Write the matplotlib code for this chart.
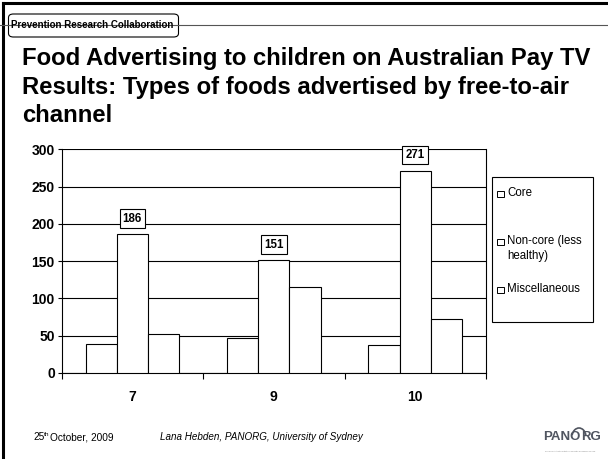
import numpy as np
import matplotlib
matplotlib.use("Agg")
import matplotlib.pyplot as plt
from matplotlib.patches import FancyBboxPatch, Arc, Rectangle
from matplotlib.lines import Line2D

plt.rcParams['font.family'] = ['Liberation Sans', 'DejaVu Sans']

# data
channels = ['7', '9', '10']
core = [39, 47, 37]
non_core = [186, 151, 271]
misc = [52, 115, 72]
series_names = ['Core', 'Non-core (less\nhealthy)', 'Miscellaneous']

W, H = 608, 459
fig = plt.figure(figsize=(W / 100, H / 100), dpi=100)

def fx(px):
    return px / W

def fy(py):
    return 1 - py / H

# slide frame
fig.add_artist(Line2D([fx(3), 1], [fy(3), fy(3)], color='black', lw=2.2))
fig.add_artist(Line2D([fx(3), fx(3)], [fy(3), 0], color='black', lw=2.2))
fig.add_artist(Line2D([0, 1], [fy(25), fy(25)], color='#555555', lw=0.8))
box = FancyBboxPatch((fx(8.5), fy(37)), fx(170), fy(14) - fy(37),
                     boxstyle='round,pad=0,rounding_size=0.008',
                     transform=fig.transFigure, fc='white', ec='black', lw=0.8)
fig.add_artist(box)
fig.text(fx(10.5), fy(25.5), 'Prevention Research Collaboration', fontsize=7.0,
         fontweight='bold', va='center', ha='left')

# title
title_lines = ['Food Advertising to children on Australian Pay TV',
               'Results: Types of foods advertised by free-to-air',
               'channel']
for line, y in zip(title_lines, [58, 87.5, 115.5]):
    fig.text(fx(22), fy(y), line, fontsize=17.2, fontweight='bold', va='center')

# chart
ax = fig.add_axes([fx(61.7), fy(373), fx(486) - fx(61.7), fy(149.3) - fy(373)])
x = np.arange(len(channels))
w = 0.221
bars = []
for off, vals, name in zip([-w, 0, w], [core, non_core, misc], series_names):
    bars.append(ax.bar(x + off, vals, w, color='white', edgecolor='black', lw=0.8,
                       zorder=3, label=name))
ax.bar_label(bars[1], padding=7, fontsize=8.3, fontweight='bold',
             bbox=dict(boxstyle='square,pad=0.28', fc='white', ec='black', lw=0.8))

ax.set_xlim(-0.5, len(channels) - 0.5)
ax.set_ylim(0, 300)
ax.set_yticks(np.arange(0, 301, 50))
ax.yaxis.grid(True, color='black', lw=0.8, zorder=0)
ax.set_axisbelow(True)
ax.set_xticks(x)
ax.set_xticklabels(channels, fontsize=10, fontweight='bold')
ax.set_xticks(np.arange(-0.5, len(channels), 1), minor=True)
ax.tick_params(axis='x', which='major', length=0, pad=12)
ax.tick_params(axis='x', which='minor', length=4, direction='out', width=0.8)
ax.tick_params(axis='y', length=3, width=0.8, pad=2, labelsize=10)
for lab in ax.get_yticklabels():
    lab.set_fontweight('bold')
for s in ax.spines.values():
    s.set_linewidth(0.8)
ax.spines['top'].set_visible(False)

# legend box laid out like the PowerPoint one
fig.add_artist(Rectangle((fx(492), fy(322)), fx(593) - fx(492), fy(177) - fy(322),
                         transform=fig.transFigure, fc='white', ec='black', lw=0.8))
for i, (b, name) in enumerate(zip(bars, series_names)):
    yc = 194 + i * 48
    fig.add_artist(Rectangle((fx(497), fy(yc + 3.3)), fx(6.6), fy(yc - 3.3) - fy(yc + 3.3),
                             transform=fig.transFigure, fc=b.patches[0].get_facecolor(),
                             ec='black', lw=0.7))
    fig.text(fx(507), fy(yc - 6.5), name, fontsize=8.3, va='top', ha='left',
             linespacing=1.25)

# footer
fig.text(fx(33), fy(437), '25', fontsize=7.3, va='center')
fig.text(fx(43.5), fy(435), 'th', fontsize=4.6, va='center')
fig.text(fx(50.5), fy(437), 'October, 2009', fontsize=7.3, va='center')
fig.text(fx(160), fy(437), 'Lana Hebden, PANORG, University of Sydney', fontsize=7.1,
         style='italic', va='center')
fig.text(fx(543), fy(437), 'PANO', fontsize=9.5, fontweight='bold', color='#505560', va='center')
fig.text(fx(581), fy(437), 'RG', fontsize=9.5, fontweight='bold', color='#505560', va='center')
fig.add_artist(Arc((fx(579), fy(437)), fx(14), fy(428) - fy(446), theta1=20, theta2=160,
                   transform=fig.transFigure, color='#505560', lw=1.2))
fig.text(fx(545), fy(451), 'Physical Activity Nutrition Obesity Research Group', fontsize=1.6,
         color='#888888', va='center')

fig.savefig('out.png', dpi=100)
